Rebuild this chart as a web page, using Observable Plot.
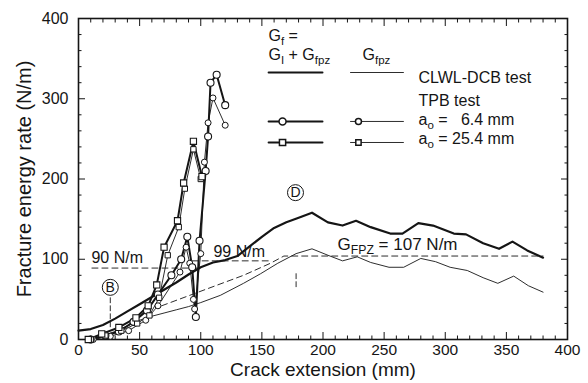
<!DOCTYPE html>
<html><head><meta charset="utf-8">
<script src="https://cdn.jsdelivr.net/npm/d3@7"></script>
<script src="https://cdn.jsdelivr.net/npm/@observablehq/plot@0.6"></script>
<style>body{margin:0;background:#fff} svg{display:block}</style>
</head><body><div id="chart"></div>
<script>
// ---- tick values ----
const xTicks = [0, 50, 100, 150, 200, 250, 300, 350, 400];
const yTicks = [0, 100, 200, 300, 400];
const xMinorStep = 10;
const yMinorStep = 20;

// ---- CLWL-DCB test ----
const dcbGf = [[0,11],[10,13],[20,18],[30,26],[40,35],[50,44],[60,53],[70,62],[80,71],[90,81],[100,90],[110,96],[120,99],[130,104],[140,116],[150,128],[160,139],[170,146],[179,151],[191,158],[204,146],[216,142],[227,148],[239,140],[255,132],[265,132],[278,145],[290,142],[307,132],[317,131],[331,120],[344,113],[355,122],[367,111],[380,102]];
const dcbGfpz = [[8,0],[20,5],[30,10],[40,17],[50,24],[60,29],[70,33],[80,37],[90,41],[100,46],[116,55],[135,70],[149,82],[163,95],[178,107],[191,113],[204,105],[216,98],[228,103],[239,96],[254,90],[266,90],[280,101],[292,97],[304,90],[318,86],[331,77],[343,70],[356,79],[368,67],[380,59]];

// ---- TPB test ----
const tpb64Gf = [[10,0],[22,5],[33,10],[45,22],[56,36],[65,56],[76,80],[84,100],[89,128],[93,90],[96,28],[99,123],[104,210],[106,253],[108,320],[113,330],[120,292]];
const tpb64Gfpz = [[12,0],[26,4],[41,11],[55,24],[65,42],[83,84],[88,115],[91,95],[94,50],[95,38],[100,107],[103,221],[106,270],[110,301],[120,267]];
const tpb254Gf = [[8,0],[19,7],[33,15],[47,27],[57,42],[64,68],[70,115],[81,148],[86,195],[94,247],[101,203]];
const tpb254Gfpz = [[10,0],[22,5],[35,11],[48,20],[58,30],[66,52],[73,105],[82,140],[87,188],[94,237],[100,200]];

// ---- reference lines ----
const line90 = [[11,89],[97,89]];
const line99 = [[93,98],[157,98]];
const lineGfpz = [[68,42],[135,80],[157,95],[168,104],[380,104]];
const markB = [[26,52],[26,14]];
const markD = [[178,82],[178,65]];
const circledLetters = [{x:26, y:65, t:"B"}, {x:177.5, y:183, t:"D"}];

// ---- annotations ----
const notes = [
  {x:10.6, y:101.7, t:"90 N/m"},
  {x:110.4, y:109, t:"99 N/m"},
  {x:211.9, y:118, t:"G_{FPZ} = 107 N/m"}
];

// ---- legend ----
const legendTexts = [
  {x:155.4, y:378, t:"G_{f} ="},
  {x:155.4, y:354.6, t:"G_{I} + G_{fpz}"},
  {x:232.3, y:354.6, t:"G_{fpz}"},
  {x:278.1, y:326, t:"CLWL-DCB test"},
  {x:278.1, y:297.3, t:"TPB test"},
  {x:278.1, y:273.6, t:"a_{o} =\u00a0\u00a0\u00a06.4 mm"},
  {x:278.1, y:250, t:"a_{o} = 25.4 mm"}
];
const legThickX = [155.5, 199.6];
const legThinX = [222.5, 265.8];
const legRowsY = {dcb: 332.7, c64: 271.7, s254: 245.5};
const legMarkThick = 166.9, legMarkThin = 229;

const ink = "#151515";
const xy = {x: d => d[0], y: d => d[1]};
const minorX = d3.range(0, 401, xMinorStep).filter(v => v % 50);
const minorY = d3.range(0, 401, yMinorStep).filter(v => v % 100);

function pair(a, y) { return [[a[0], y], [a[1], y]]; }

const chart = Plot.plot({
  width: 588, height: 383,
  marginLeft: 78, marginRight: 21, marginTop: 18, marginBottom: 44,
  x: {domain: [0, 400]},
  y: {domain: [0, 400]},
  style: {fontFamily: "Liberation Sans, Arial, sans-serif", background: "#fff", color: ink},
  marks: [
    // ticks (inward) on all four sides
    Plot.axisX(xTicks, {anchor: "bottom", tickSize: -7, tickFormat: () => "", label: null, stroke: ink}),
    Plot.axisX(minorX, {anchor: "bottom", tickSize: -3.5, tickFormat: () => "", label: null, stroke: ink}),
    Plot.axisX(xTicks, {anchor: "top", tickSize: -7, tickFormat: () => "", label: null, stroke: ink}),
    Plot.axisX(minorX, {anchor: "top", tickSize: -3.5, tickFormat: () => "", label: null, stroke: ink}),
    Plot.axisY(yTicks, {anchor: "left", tickSize: -7, tickFormat: () => "", label: null, stroke: ink}),
    Plot.axisY(minorY, {anchor: "left", tickSize: -3.5, tickFormat: () => "", label: null, stroke: ink}),
    Plot.axisY(yTicks, {anchor: "right", tickSize: -7, tickFormat: () => "", label: null, stroke: ink}),
    Plot.axisY(minorY, {anchor: "right", tickSize: -3.5, tickFormat: () => "", label: null, stroke: ink}),
    // tick labels
    Plot.axisX(xTicks, {anchor: "bottom", tickSize: 0, tickPadding: 4, fontSize: 15.5, label: null, fill: ink}),
    Plot.axisY(yTicks, {anchor: "left", tickSize: 0, tickPadding: 10, fontSize: 16, label: null, fill: ink}),
    Plot.frame({stroke: ink, strokeWidth: 1.6}),
    // axis titles
    Plot.text(["Crack extension (mm)"], {frameAnchor: "bottom", dy: 30, fontSize: 19, fill: ink, lineAnchor: "middle", textAnchor: "middle"}),
    Plot.text(["Fracture energy rate (N/m)"], {frameAnchor: "left", dx: -54, rotate: -90, fontSize: 20, fill: ink, lineAnchor: "middle", textAnchor: "middle"}),
    // reference dashed lines
    Plot.line(line90, {...xy, stroke: ink, strokeWidth: 0.9, strokeDasharray: "6,4"}),
    Plot.line(line99, {...xy, stroke: ink, strokeWidth: 0.9, strokeDasharray: "6,4"}),
    Plot.line(lineGfpz, {...xy, stroke: ink, strokeWidth: 0.9, strokeDasharray: "6,4"}),
    Plot.line(markB, {...xy, stroke: ink, strokeWidth: 0.9, strokeDasharray: "5,3"}),
    Plot.line(markD, {...xy, stroke: ink, strokeWidth: 0.9, strokeDasharray: "5,3"}),
    // DCB
    Plot.line(dcbGfpz, {...xy, stroke: ink, strokeWidth: 0.9}),
    Plot.line(dcbGf, {...xy, stroke: ink, strokeWidth: 2.2}),
    // TPB
    Plot.line(tpb64Gfpz, {...xy, stroke: ink, strokeWidth: 0.9}),
    Plot.line(tpb254Gfpz, {...xy, stroke: ink, strokeWidth: 0.9}),
    Plot.line(tpb64Gf, {...xy, stroke: ink, strokeWidth: 2}),
    Plot.line(tpb254Gf, {...xy, stroke: ink, strokeWidth: 2}),
    Plot.dot(tpb64Gfpz, {...xy, r: 3, fill: "white", stroke: ink, strokeWidth: 1}),
    Plot.dot(tpb64Gf, {...xy, r: 3.5, fill: "white", stroke: ink, strokeWidth: 1.1}),
    Plot.dot(tpb254Gfpz, {...xy, r: 3, symbol: "square", fill: "white", stroke: ink, strokeWidth: 1}),
    Plot.dot(tpb254Gf, {...xy, r: 3.5, symbol: "square", fill: "white", stroke: ink, strokeWidth: 1.1}),
    // circled letters
    Plot.dot(circledLetters, {x: "x", y: "y", r: 8, fill: "white", stroke: ink, strokeWidth: 1}),
    Plot.text(circledLetters, {x: "x", y: "y", text: "t", fontSize: 14, fill: ink}),
    // annotations
    Plot.text(notes.slice(0, 2), {x: "x", y: "y", text: "t", textAnchor: "start", fontSize: 16, fill: ink}),
    Plot.text(notes.slice(2), {x: "x", y: "y", text: "t", textAnchor: "start", fontSize: 17, fill: ink}),
    // legend
    Plot.text(legendTexts, {x: "x", y: "y", text: "t", textAnchor: "start", fontSize: 16, fill: ink}),
    Plot.line(pair(legThickX, legRowsY.dcb), {...xy, stroke: ink, strokeWidth: 2}),
    Plot.line(pair(legThinX, legRowsY.dcb), {...xy, stroke: ink, strokeWidth: 0.9}),
    Plot.line(pair(legThickX, legRowsY.c64), {...xy, stroke: ink, strokeWidth: 2}),
    Plot.line(pair(legThinX, legRowsY.c64), {...xy, stroke: ink, strokeWidth: 0.9}),
    Plot.line(pair(legThickX, legRowsY.s254), {...xy, stroke: ink, strokeWidth: 2}),
    Plot.line(pair(legThinX, legRowsY.s254), {...xy, stroke: ink, strokeWidth: 0.9}),
    Plot.dot([[legMarkThick, legRowsY.c64]], {...xy, r: 3.5, fill: "white", stroke: ink}),
    Plot.dot([[legMarkThin, legRowsY.c64]], {...xy, r: 3, fill: "white", stroke: ink}),
    Plot.dot([[legMarkThick, legRowsY.s254]], {...xy, r: 3.5, symbol: "square", fill: "white", stroke: ink}),
    Plot.dot([[legMarkThin, legRowsY.s254]], {...xy, r: 3, symbol: "square", fill: "white", stroke: ink})
  ]
});

// subscripts: "_{..}" -> tspan
d3.select(chart).selectAll("text").each(function() {
  const el = this;
  const t = el.textContent;
  if (!t.includes("_{")) return;
  el.textContent = "";
  const parts = t.split(/(_\{[^}]*\})/).filter(p => p);
  let sub = false;
  for (const p of parts) {
    const m = p.match(/^_\{([^}]*)\}$/);
    const ts = d3.select(el).append("tspan");
    if (m) { ts.text(m[1]).attr("font-size", "72%").attr("dy", 4); sub = true; }
    else { ts.text(p); if (sub) { ts.attr("dy", -4); sub = false; } }
  }
});

document.getElementById("chart").appendChild(chart);
</script>
</body></html>
